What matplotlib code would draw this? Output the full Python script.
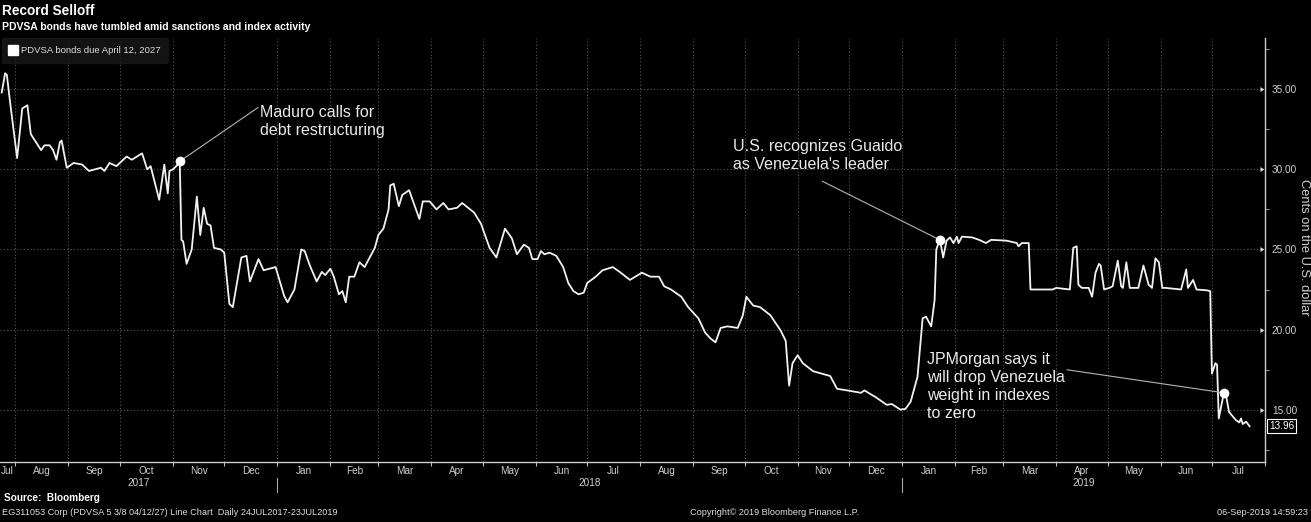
import matplotlib
matplotlib.use("Agg")
import matplotlib.pyplot as plt
import matplotlib.dates as mdates
import matplotlib.transforms as mtransforms
from matplotlib.lines import Line2D
import pandas as pd

SANS = ["Liberation Sans", "DejaVu Sans"]

# PDVSA 5 3/8 04/12/27, cents on the dollar
dates = [
    "2017-07-24", "2017-07-26", "2017-07-27", "2017-07-29", "2017-08-02", "2017-08-05",
    "2017-08-08", "2017-08-10", "2017-08-13", "2017-08-16", "2017-08-18", "2017-08-21",
    "2017-08-23", "2017-08-25", "2017-08-27", "2017-08-28", "2017-08-31", "2017-09-04",
    "2017-09-09", "2017-09-13", "2017-09-20", "2017-09-22", "2017-09-25", "2017-09-29",
    "2017-10-05", "2017-10-08", "2017-10-14", "2017-10-17", "2017-10-19", "2017-10-24",
    "2017-10-27", "2017-10-29", "2017-10-30", "2017-11-01", "2017-11-03", "2017-11-05",
    "2017-11-06", "2017-11-07", "2017-11-09", "2017-11-12", "2017-11-15", "2017-11-17",
    "2017-11-19", "2017-11-21", "2017-11-23", "2017-11-25", "2017-11-29", "2017-12-01",
    "2017-12-04", "2017-12-06", "2017-12-11", "2017-12-14", "2017-12-16", "2017-12-21",
    "2017-12-24", "2017-12-31", "2018-01-05", "2018-01-07", "2018-01-11", "2018-01-15",
    "2018-01-17", "2018-01-20", "2018-01-24", "2018-01-27", "2018-01-29", "2018-02-01",
    "2018-02-03", "2018-02-06", "2018-02-08", "2018-02-10", "2018-02-12", "2018-02-15",
    "2018-02-18", "2018-02-21", "2018-02-24", "2018-02-27", "2018-03-01", "2018-03-04",
    "2018-03-07", "2018-03-08", "2018-03-10", "2018-03-13", "2018-03-15", "2018-03-19",
    "2018-03-22", "2018-03-25", "2018-03-27", "2018-03-31", "2018-04-04", "2018-04-08",
    "2018-04-11", "2018-04-16", "2018-04-19", "2018-04-26", "2018-04-30", "2018-05-05",
    "2018-05-09", "2018-05-14", "2018-05-18", "2018-05-21", "2018-05-25", "2018-05-28",
    "2018-05-30", "2018-06-02", "2018-06-04", "2018-06-06", "2018-06-09", "2018-06-13",
    "2018-06-17", "2018-06-20", "2018-06-23", "2018-06-26", "2018-06-29", "2018-07-01",
    "2018-07-06", "2018-07-10", "2018-07-16", "2018-07-20", "2018-07-26", "2018-08-02",
    "2018-08-07", "2018-08-12", "2018-08-15", "2018-08-19", "2018-08-25", "2018-08-29",
    "2018-09-04", "2018-09-08", "2018-09-11", "2018-09-14", "2018-09-17", "2018-09-21",
    "2018-09-27", "2018-09-30", "2018-10-02", "2018-10-06", "2018-10-10", "2018-10-16",
    "2018-10-22", "2018-10-25", "2018-10-27", "2018-10-29", "2018-11-01", "2018-11-04",
    "2018-11-10", "2018-11-20", "2018-11-24", "2018-11-30", "2018-12-08", "2018-12-10",
    "2018-12-17", "2018-12-23", "2018-12-26", "2018-12-31", "2019-01-03", "2019-01-06",
    "2019-01-10", "2019-01-12", "2019-01-13", "2019-01-15", "2019-01-18", "2019-01-20",
    "2019-01-21", "2019-01-23", "2019-01-24", "2019-01-25", "2019-01-27", "2019-01-29",
    "2019-01-31", "2019-02-02", "2019-02-03", "2019-02-05", "2019-02-11", "2019-02-15",
    "2019-02-19", "2019-02-22", "2019-03-03", "2019-03-09", "2019-03-10", "2019-03-12",
    "2019-03-16", "2019-03-17", "2019-03-30", "2019-04-01", "2019-04-09", "2019-04-11",
    "2019-04-13", "2019-04-14", "2019-04-16", "2019-04-20", "2019-04-22", "2019-04-24",
    "2019-04-26", "2019-04-27", "2019-04-29", "2019-05-02", "2019-05-04", "2019-05-07",
    "2019-05-09", "2019-05-10", "2019-05-12", "2019-05-14", "2019-05-19", "2019-05-22",
    "2019-05-25", "2019-05-27", "2019-05-29", "2019-05-31", "2019-06-02", "2019-06-04",
    "2019-06-13", "2019-06-16", "2019-06-17", "2019-06-20", "2019-06-22", "2019-06-28",
    "2019-06-30", "2019-07-01", "2019-07-03", "2019-07-04", "2019-07-05", "2019-07-08",
    "2019-07-09", "2019-07-11", "2019-07-15", "2019-07-17", "2019-07-18", "2019-07-19",
    "2019-07-21", "2019-07-23",
]
prices = [
    34.8, 36.0, 35.9, 34.1, 30.7, 33.8,
    34.0, 32.2, 31.7, 31.2, 31.5, 31.5,
    31.2, 30.6, 31.7, 31.8, 30.1, 30.4,
    30.3, 29.9, 30.1, 29.9, 30.4, 30.2,
    30.8, 30.6, 31.0, 30.0, 30.2, 28.1,
    30.3, 28.5, 29.9, 30.0, 30.2, 30.5,
    25.6, 25.5, 24.1, 25.0, 28.3, 25.9,
    27.6, 26.6, 26.5, 25.1, 25.0, 24.8,
    21.6, 21.4, 24.5, 24.6, 23.0, 24.4,
    23.7, 23.9, 22.1, 21.7, 22.5, 25.0,
    24.9, 24.0, 23.0, 23.6, 23.4, 23.8,
    23.3, 22.2, 22.4, 21.7, 23.3, 23.3,
    24.2, 23.9, 24.5, 25.1, 25.9, 26.3,
    27.5, 29.0, 29.1, 27.7, 28.4, 28.7,
    27.8, 26.9, 28.0, 28.0, 27.5, 27.9,
    27.5, 27.6, 27.9, 27.3, 26.6, 25.1,
    24.5, 26.3, 25.7, 24.7, 25.3, 25.1,
    24.4, 24.4, 24.9, 24.7, 24.8, 24.6,
    23.9, 22.9, 22.4, 22.2, 22.3, 22.9,
    23.3, 23.7, 23.9, 23.6, 23.1, 23.55,
    23.3, 23.3, 22.7, 22.5, 22.05, 21.4,
    20.7, 19.8, 19.45, 19.2, 20.1, 20.2,
    20.1, 20.9, 22.05, 21.5, 21.4, 20.9,
    19.95, 19.3, 16.5, 17.9, 18.4, 17.9,
    17.4, 17.1, 16.3, 16.2, 16.05, 16.2,
    15.75, 15.3, 15.35, 15.0, 15.05, 15.5,
    17.05, 19.45, 20.7, 20.8, 20.2, 21.85,
    25.0, 25.6, 25.1, 24.5, 25.55, 25.75,
    25.4, 25.8, 25.4, 25.8, 25.75, 25.6,
    25.4, 25.6, 25.55, 25.4, 25.2, 25.4,
    25.4, 22.5, 22.5, 22.6, 22.5, 25.1,
    25.2, 22.8, 22.6, 22.6, 22.05, 23.55,
    24.1, 24.0, 22.5, 22.6, 22.7, 24.3,
    22.7, 22.6, 24.2, 22.6, 22.6, 24.0,
    22.8, 22.6, 24.45, 24.2, 22.6, 22.6,
    22.5, 23.75, 22.6, 23.1, 22.5, 22.45,
    22.4, 17.25, 17.9, 17.8, 14.45, 16.05,
    16.05, 14.85, 14.35, 14.2, 14.45, 14.1,
    14.25, 13.96,
]

event_dates = ["2017-11-05", "2019-01-23", "2019-07-08"]
event_labels = [
    "Maduro calls for\ndebt restructuring",
    "U.S. recognizes Guaido\nas Venezuela's leader",
    "JPMorgan says it\nwill drop Venezuela\nweight in indexes\nto zero",
]
# where each label sits (axes fraction) and where its leader line starts
label_pos = [(0.2055, 0.842), (0.5795, 0.762), (0.7330, 0.258)]
leader_start = [(0.2040, 0.836), (0.6500, 0.662), (0.8435, 0.217)]

y_ticks = [15, 20, 25, 30, 35]
x_start, x_end = pd.Timestamp("2017-07-23"), pd.Timestamp("2019-08-01")

series = pd.Series(prices, index=pd.to_datetime(dates))

W, H = 1311, 522
fig = plt.figure(figsize=(13.11, 5.22), dpi=100, facecolor="black")
ax = fig.add_axes([0.0, 0.1155, 0.9649, 0.8117], facecolor="black")

ax.plot(series.index, series.values, color="#f2f2f2", lw=1.3, zorder=3)

ax.set_xlim(x_start, x_end)
ax.set_ylim(11.75, 38.2)

# month boundaries get ticks + dotted grid, month names sit mid-month
ax.xaxis.set_major_locator(mdates.MonthLocator())
ax.xaxis.set_major_formatter(plt.NullFormatter())
month_edges = pd.date_range("2017-07-01", "2019-09-01", freq="MS")
centers, names = [], []
for a, b in zip(month_edges[:-1], month_edges[1:]):
    lo, hi = max(a, x_start), min(b, x_end)
    if lo < hi:
        centers.append(mdates.date2num(lo) + (mdates.date2num(hi) - mdates.date2num(lo)) / 2)
        names.append(a.strftime("%b"))
ax.xaxis.set_minor_locator(plt.FixedLocator(centers))
ax.xaxis.set_minor_formatter(plt.FixedFormatter(names))
ax.tick_params(axis="x", which="major", length=3, color="#bbbbbb", direction="out")
ax.tick_params(axis="x", which="minor", length=0, pad=3, labelsize=7.2, labelcolor="#d0d0d0")
for lbl in ax.get_xticklabels(minor=True):
    lbl.set_family(SANS)

# year labels centred on the visible part of each year, with separators
trans = mtransforms.blended_transform_factory(ax.transData, ax.transAxes)
for yr in [2017, 2018, 2019]:
    lo = max(pd.Timestamp(f"{yr}-01-01"), x_start)
    hi = min(pd.Timestamp(f"{yr + 1}-01-01"), x_end)
    mid = mdates.date2num(lo) + (mdates.date2num(hi) - mdates.date2num(lo)) / 2
    ax.text(mid, -0.0505, str(yr), transform=trans, ha="center", va="center",
            fontsize=7.2, color="#d0d0d0", family=SANS)
    if yr > 2017:
        ax.plot([lo, lo], [-0.039, -0.072], transform=trans, color="#aaaaaa",
                lw=0.8, clip_on=False)

ax.yaxis.tick_right()
ax.set_yticks(y_ticks)
ax.set_yticklabels([f"{v:.2f}" for v in y_ticks])
ax.yaxis.set_minor_locator(plt.MultipleLocator(2.5))
ax.tick_params(axis="y", which="major", length=0, pad=5, labelsize=7.2, labelcolor="#d0d0d0")
ax.tick_params(axis="y", which="minor", length=3, color="#bbbbbb")
for t in ax.yaxis.get_major_ticks():
    t.tick2line.set_marker(5)
    t.tick2line.set_markersize(5)
    t.tick2line.set_color("#e0e0e0")
for lbl in ax.get_yticklabels():
    lbl.set_family(SANS)
fig.text(1304 / W, 1 - 247 / H, "Cents on the U.S. dollar", rotation=270, ha="center",
         va="center", fontsize=9.3, color="#d0d0d0", family=SANS)

ax.grid(True, which="major", color="#5a5a5a", lw=0.8, ls=(0, (1, 2)))
for side in ["left", "top"]:
    ax.spines[side].set_visible(False)
for side in ["bottom", "right"]:
    ax.spines[side].set_color("#cccccc")
    ax.spines[side].set_linewidth(1.0)

# event markers, leader lines and labels
for d, text, tpos, lpos in zip(event_dates, event_labels, label_pos, leader_start):
    ts = pd.Timestamp(d)
    val = series[ts]
    ax.annotate("", xy=(ts, val), xytext=lpos, textcoords="axes fraction",
                arrowprops=dict(arrowstyle="-", color="#b5b5b5", lw=0.8,
                                shrinkA=0, shrinkB=0), zorder=4)
    ax.plot(ts, val, "o", color="white", ms=6, zorder=5)
    ax.text(tpos[0], tpos[1], text, transform=ax.transAxes, ha="left", va="top",
            fontsize=11.5, color="#eaeaea", family=SANS, linespacing=1.25)

# last value tag
last = series.iloc[-1]
ax.annotate(f"{last:.2f}", xy=(1.0, last), xycoords=("axes fraction", "data"),
            xytext=(3, 0), textcoords="offset points", ha="left", va="center",
            fontsize=7.2, color="white", family=SANS,
            bbox=dict(boxstyle="square,pad=0.2", fc="black", ec="white", lw=0.8))

leg = ax.legend([Line2D([], [], marker="s", color="white", ls="", ms=6.5)],
                ["PDVSA bonds due April 12, 2027"], loc="upper left",
                bbox_to_anchor=(0.0015, 0.999), borderaxespad=0, frameon=True,
                handlelength=0.8, handletextpad=0.4, borderpad=0.8,
                prop={"family": SANS, "size": 6.8})
leg.get_frame().set_facecolor("#191919")
leg.get_frame().set_edgecolor("#191919")
leg.get_frame().set_boxstyle("round,pad=0,rounding_size=0.2")
for t in leg.get_texts():
    t.set_color("#dddddd")

fig.text(2 / W, 1 - 11 / H, "Record Selloff", fontsize=9.8, fontweight="bold",
         color="white", family=SANS, va="center")
fig.text(2 / W, 1 - 26.7 / H, "PDVSA bonds have tumbled amid sanctions and index activity",
         fontsize=7.45, fontweight="bold", color="white", family=SANS, va="center")
fig.text(4 / W, 1 - 498 / H, "Source:  Bloomberg", fontsize=7.2, fontweight="bold",
         color="white", family=SANS, va="center")
fig.text(2 / W, 1 - 512.5 / H,
         "EG311053 Corp (PDVSA 5 3/8 04/12/27) Line Chart  Daily 24JUL2017-23JUL2019",
         fontsize=6.6, color="#dddddd", family=SANS, va="center")
fig.text(690 / W, 1 - 512.5 / H, "Copyright\u00a9 2019 Bloomberg Finance L.P.",
         fontsize=6.6, color="#dddddd", family=SANS, va="center")
fig.text(1308 / W, 1 - 512.5 / H, "06-Sep-2019 14:59:23", fontsize=6.6, color="#dddddd",
         family=SANS, va="center", ha="right")

fig.savefig("out.png", dpi=100, facecolor="black")
